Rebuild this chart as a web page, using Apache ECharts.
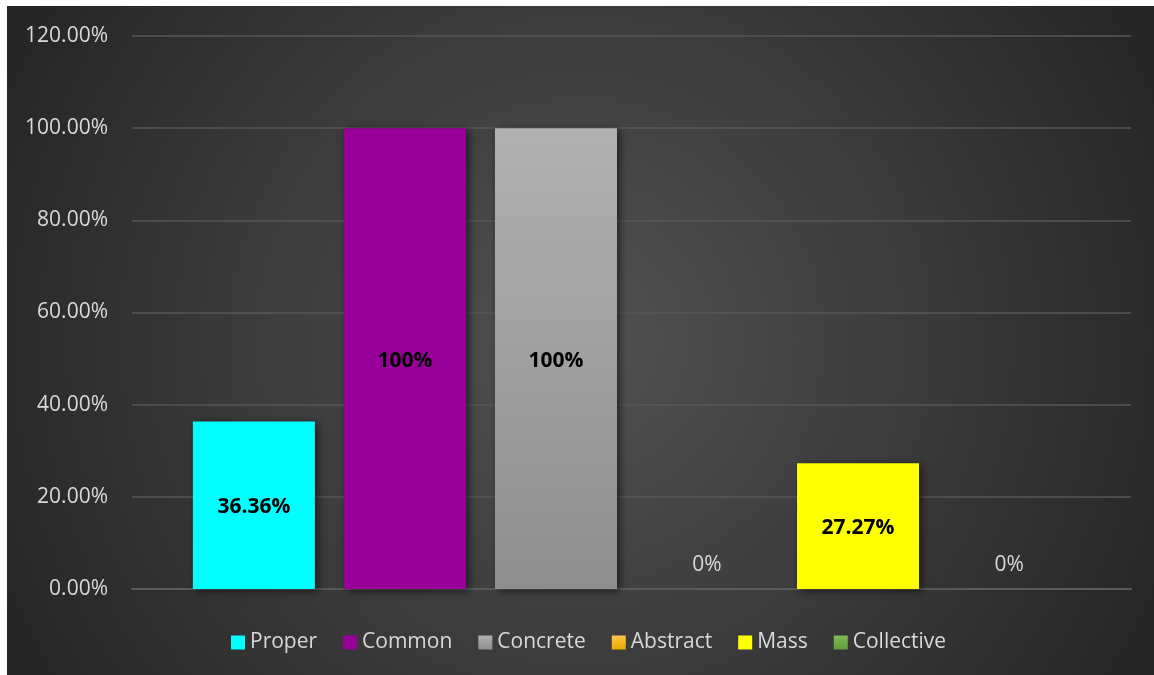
<!DOCTYPE html>
<html>
<head>
<meta charset="utf-8">
<script src="https://cdn.jsdelivr.net/npm/echarts@6/dist/echarts.min.js"></script>
<style>
  html, body { margin: 0; padding: 0; background: #ffffff; }
  #chart { position: absolute; left: 7px; top: 6px; width: 1147px; height: 669px; }
</style>
</head>
<body>
<div id="chart"></div>
<script>
// Noun types and the share of each found (percent)
const seriesNames = ['Proper', 'Common', 'Concrete', 'Abstract', 'Mass', 'Collective'];
const seriesValues = [36.36, 100, 100, 0, 27.27, 0];
const yTicks = [0, 20, 40, 60, 80, 100, 120];

const fills = [
  '#00ffff',
  '#990099',
  { type: 'linear', x: 0, y: 0, x2: 0, y2: 1, colorStops: [{ offset: 0, color: '#b1b1b1' }, { offset: 1, color: '#8e8e8e' }] },
  { type: 'linear', x: 0, y: 0, x2: 0, y2: 1, colorStops: [{ offset: 0, color: '#ffc44a' }, { offset: 1, color: '#e8a800' }] },
  '#ffff00',
  { type: 'linear', x: 0, y: 0, x2: 0, y2: 1, colorStops: [{ offset: 0, color: '#7fbb58' }, { offset: 1, color: '#5f9e38' }] }
];

const fontFamily = '"Open Sans", "Noto Sans", sans-serif';

const chart = echarts.init(document.getElementById('chart'));

chart.setOption({
  backgroundColor: {
    type: 'radial', x: 0.5, y: 0.5, r: 0.95,
    colorStops: [{ offset: 0, color: '#525252' }, { offset: 1, color: '#262626' }]
  },
  animation: false,
  grid: { left: 125, right: 23, top: 30, bottom: 86 },
  legend: {
    bottom: 17,
    left: 219,
    itemWidth: 14,
    itemHeight: 14,
    itemGap: 26,
    icon: 'rect',
    textStyle: { color: '#d9d9d9', fontSize: 21, fontFamily: fontFamily, padding: [0, 0, 0, 0] },
    data: seriesNames
  },
  xAxis: {
    type: 'category',
    data: [''],
    axisLine: { lineStyle: { color: '#5a5a5a', width: 2 } },
    axisTick: { show: false },
    axisLabel: { show: false }
  },
  yAxis: {
    type: 'value',
    min: yTicks[0],
    max: yTicks[yTicks.length - 1],
    interval: 20,
    axisLine: { show: false },
    axisTick: { show: false },
    splitLine: { lineStyle: { color: '#575757', width: 1.5 } },
    axisLabel: {
      color: '#d9d9d9',
      fontSize: 21,
      fontFamily: fontFamily,
      margin: 24,
      formatter: v => v.toFixed(2) + '%'
    }
  },
  series: seriesNames.map((name, i) => ({
    name: name,
    type: 'bar',
    data: [seriesValues[i]],
    barWidth: 122,
    barGap: '23.8%',
    itemStyle: {
      color: fills[i],
      shadowColor: 'rgba(0,0,0,0.55)',
      shadowBlur: 8,
      shadowOffsetX: 3,
      shadowOffsetY: 2
    },
    label: seriesValues[i] === 0 ? {
      show: true,
      position: 'top',
      distance: 13,
      color: '#d9d9d9',
      fontSize: 21,
      fontFamily: fontFamily,
      formatter: p => p.value + '%'
    } : {
      show: true,
      position: 'inside',
      offset: [0, 2],
      color: '#000000',
      fontSize: 21,
      fontWeight: 'bold',
      fontFamily: fontFamily,
      formatter: p => p.value + '%'
    }
  }))
});
</script>
</body>
</html>
